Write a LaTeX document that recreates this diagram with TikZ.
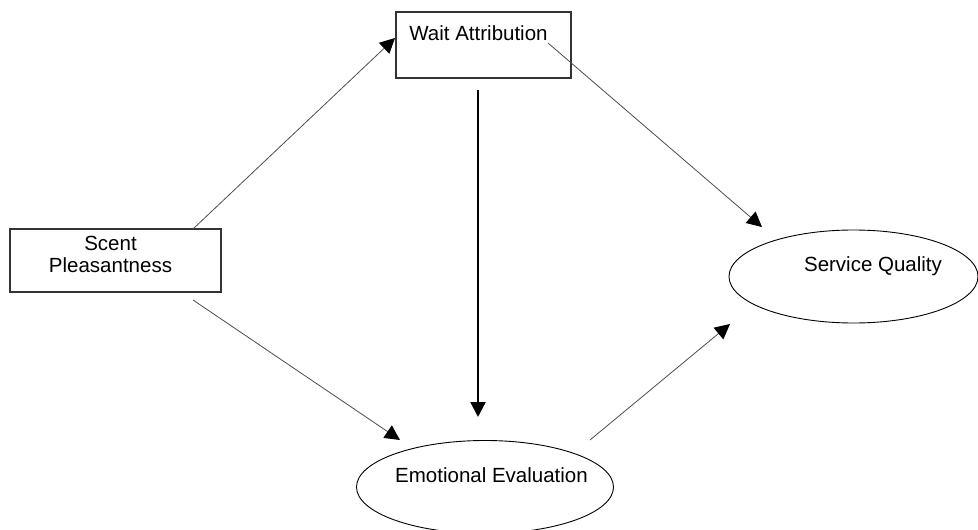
\documentclass[tikz,border=0pt]{standalone}
\usepackage{fontspec}
\setmainfont{Liberation Sans}
\usetikzlibrary{arrows.meta,shapes.geometric}
\tikzset{
  boxstyle/.style={draw=black!80, line width=1.2pt, rectangle, inner sep=0pt},
  ovalstyle/.style={draw=black, line width=0.9pt, ellipse, inner sep=0pt},
  lbl/.style={font=\fontsize{20.5}{22}\selectfont, inner sep=0pt, anchor=base, align=center},
  thinarrow/.style={draw=black!70, line width=0.8pt, -{Triangle[length=15pt,width=15pt,fill=black,color=black]}},
  thickarrow/.style={draw=black, line width=2.2pt, -{Triangle[length=15pt,width=15pt]}}
}
\begin{document}
\begin{tikzpicture}[x=1pt,y=-1pt]
\useasboundingbox (0,0) rectangle (978,530);
\begin{scope}
\clip (0,0) rectangle (978,530);
% boxes
\node[boxstyle, minimum width=175pt, minimum height=66pt] (wait) at (483.5,45) {};
\node[boxstyle, minimum width=211pt, minimum height=63pt] (scent) at (115.5,260.5) {};
% ellipses
\node[ovalstyle, minimum width=257pt, minimum height=93pt] (emo) at (485,487) {};
\node[ovalstyle, minimum width=249pt, minimum height=93pt] (serv) at (853.5,276.5) {};
\end{scope}
% labels
\node[lbl] (waitlbl) at (478.5,40) {Wait Attribution};
\node[lbl] (scentlbl) at (110.5,272) {Scent\\Pleasantness};
\node[lbl] (emolbl) at (491.5,482) {Emotional Evaluation};
\node[lbl] (servlbl) at (873,271) {Service Quality};
% connector end points
\coordinate (s1) at (193,229);
\coordinate (w1) at (395,38);
\coordinate (s2) at (193,300);
\coordinate (e1) at (400,440);
\coordinate (w2) at (548,43);
\coordinate (q1) at (762,227);
\coordinate (e2) at (590,440);
\coordinate (q2) at (730,324);
\coordinate (w3) at (478,90);
\coordinate (e3) at (478,417);
% connectors
\draw[thinarrow] (s1) -- (w1);
\draw[thinarrow] (s2) -- (e1);
\draw[thinarrow] (w2) -- (q1);
\draw[thinarrow] (e2) -- (q2);
\draw[thickarrow] (w3) -- (e3);
\end{tikzpicture}
\end{document}
